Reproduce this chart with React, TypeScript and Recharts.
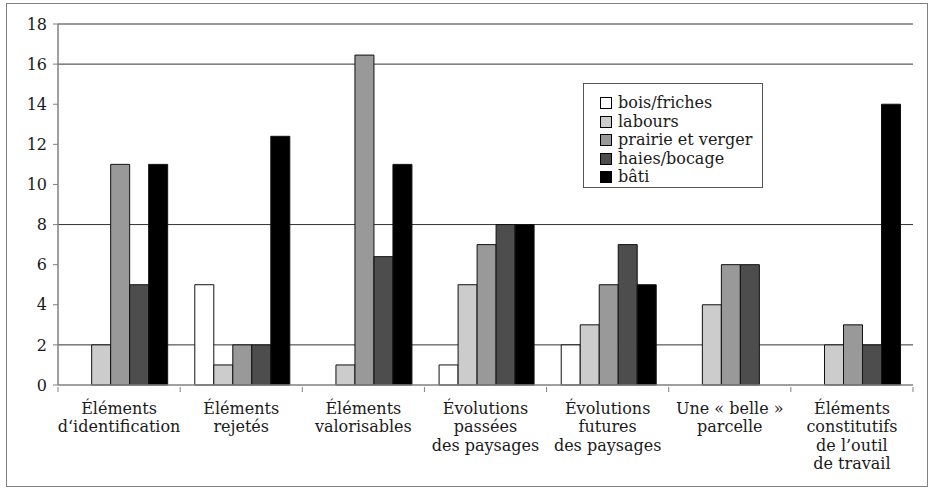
import { Bar, BarChart, CartesianGrid, Legend, XAxis, YAxis } from "recharts";

const categories = [
  "Éléments\nd‘identification",
  "Éléments\nrejetés",
  "Éléments\nvalorisables",
  "Évolutions\npassées\ndes paysages",
  "Évolutions\nfutures\ndes paysages",
  "Une « belle »\nparcelle",
  "Éléments\nconstitutifs\nde l’outil\nde travail",
];

const boisFriches = [0, 5, 0, 1, 2, 0, 0];
const labours = [2, 1, 1, 5, 3, 4, 2];
const prairieVerger = [11, 2, 16.45, 7, 5, 6, 3];
const haiesBocage = [5, 2, 6.4, 8, 7, 6, 2];
const bati = [11, 12.4, 11, 8, 5, 0, 14];

const yTicks = [0, 2, 4, 6, 8, 10, 12, 14, 16, 18];
const gridValues = [2, 8, 16, 18];

const series = [
  { key: "bois", name: "bois/friches", values: boisFriches, fill: "#ffffff" },
  { key: "labours", name: "labours", values: labours, fill: "#cccccc" },
  { key: "prairie", name: "prairie et verger", values: prairieVerger, fill: "#999999" },
  { key: "haies", name: "haies/bocage", values: haiesBocage, fill: "#4d4d4d" },
  { key: "bati", name: "bâti", values: bati, fill: "#000000" },
];

const data = categories.map((label, i) => {
  const row: Record<string, string | number> = { label };
  for (const s of series) row[s.key] = s.values[i];
  return row;
});

const font = "'DejaVu Serif', serif";
const ink = "#1a1a1a";

// tick marks sit on the category boundaries, labels in the middle
function CategoryTick({ x, y, payload, index }: any) {
  const lines = String(payload.value).split("\n");
  const half = payload.offset ?? 0;
  const axisY = y - 6;
  return (
    <g>
      <line x1={x - half} x2={x - half} y1={axisY} y2={axisY + 5} stroke="#808080" />
      {index === categories.length - 1 && (
        <line x1={x + half} x2={x + half} y1={axisY} y2={axisY + 5} stroke="#808080" />
      )}
      <text x={x} y={y} textAnchor="middle" fontFamily={font} fontSize={16} fill={ink}>
        {lines.map((line, i) => (
          <tspan key={i} x={x} dy={i === 0 ? 21 : 18.3}>
            {line}
          </tspan>
        ))}
      </text>
    </g>
  );
}

function LegendBox() {
  return (
    <div
      style={{
        width: 180,
        height: 105,
        boxSizing: "border-box",
        border: "1.5px solid #555",
        background: "#fff",
        padding: "10px 0 0 16px",
        fontFamily: font,
        fontSize: 16,
        color: ink,
      }}
    >
      {series.map((s) => (
        <div key={s.key} style={{ display: "flex", alignItems: "center", height: 18.5 }}>
          <span
            style={{
              display: "inline-block",
              width: 10,
              height: 10,
              border: "1px solid #000",
              background: s.fill,
              marginRight: 6,
            }}
          />
          <span style={{ lineHeight: "18px" }}>{s.name}</span>
        </div>
      ))}
    </div>
  );
}

export default function App() {
  return (
    <div style={{ position: "absolute", left: 0, top: 0, width: 931, height: 490, background: "#fff" }}>
      <div
        style={{
          position: "absolute",
          left: 6,
          top: 3,
          width: 920,
          height: 482,
          border: "1.5px solid #808080",
        }}
      />
      <div style={{ position: "absolute", left: 0, top: 0 }}>
        <BarChart
          width={931}
          height={490}
          data={data}
          margin={{ top: 24, right: 18, left: 8, bottom: 5 }}
          barCategoryGap="12%"
          barGap={0}
        >
          <CartesianGrid
            vertical={false}
            horizontalValues={gridValues}
            stroke="#333"
            strokeWidth={1}
          />
          <XAxis
            dataKey="label"
            interval={0}
            axisLine={{ stroke: "#808080", strokeWidth: 1.5 }}
            tickLine={false}
            tick={<CategoryTick />}
            height={100}
          />
          <YAxis
            domain={[0, 18]}
            ticks={yTicks}
            interval={0}
            width={50}
            axisLine={{ stroke: "#808080", strokeWidth: 1.5 }}
            tickLine={{ stroke: "#808080" }}
            tickSize={5}
            tickMargin={6}
            tick={{ fontFamily: font, fontSize: 16, fill: ink }}
          />
          <Legend
            layout="vertical"
            align="center"
            verticalAlign="middle"
            wrapperStyle={{ position: "absolute", left: 583, top: 83, width: 180 }}
            content={<LegendBox />}
          />
          {series.map((s) => (
            <Bar
              key={s.key}
              dataKey={s.key}
              name={s.name}
              fill={s.fill}
              stroke="#111"
              strokeWidth={1}
              isAnimationActive={false}
            />
          ))}
        </BarChart>
      </div>
    </div>
  );
}
